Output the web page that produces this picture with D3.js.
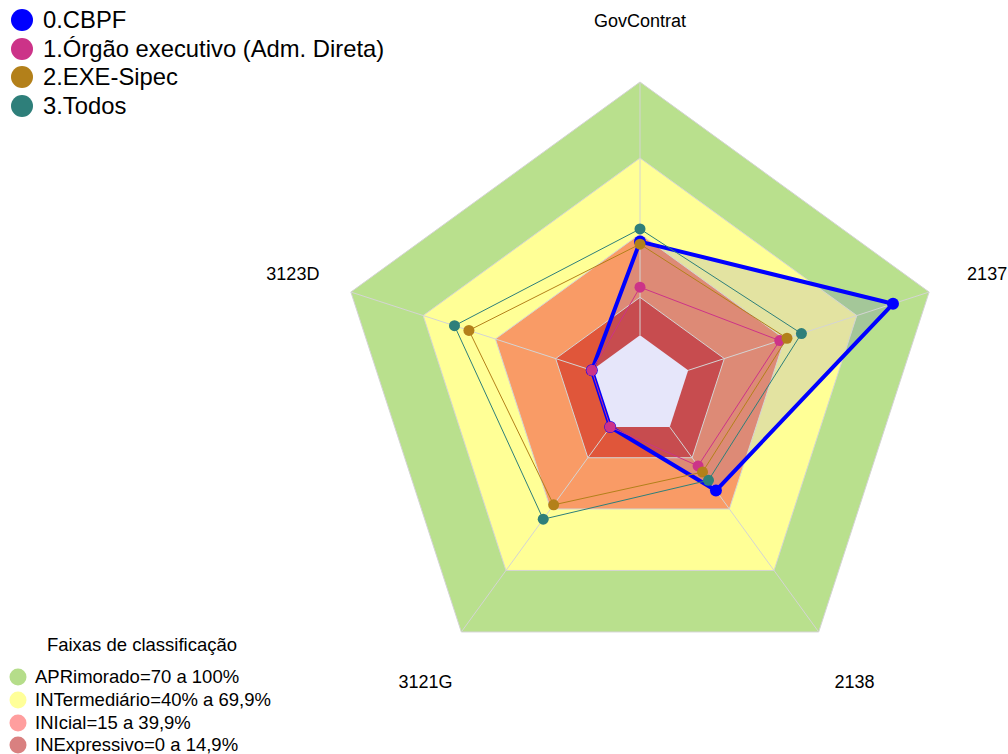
<!DOCTYPE html>
<html>
<head>
<meta charset="utf-8">
<script src="https://cdn.jsdelivr.net/npm/d3@7"></script>
<style>
  body { margin: 0; background: #fff; }
  svg text { font-family: "Liberation Sans", Arial, sans-serif; fill: #000; }
</style>
</head>
<body>
<div id="chart"></div>
<script>
// eixos do radar (sentido horario a partir do topo)
const axes = ["GovContrat", "2137", "2138", "3121G", "3123D"];

const seriesNames = ["0.CBPF", "1.Órgão executivo (Adm. Direta)", "2.EXE-Sipec", "3.Todos"];
const seriesColors = ["#0000ff", "#cc3388", "#b3801a", "#2e7f7a"];
const cbpf = [37, 85, 31, 0, 0];
const orgao = [19, 38, 19, 0, 0];
const sipec = [36, 41, 22, 38, 51];
const todos = [42, 47, 26, 45, 57];

// faixas de classificacao
const bandNames = ["APRimorado=70 a 100%", "INTermediário=40% a 69,9%", "INIcial=15 a 39,9%", "INExpressivo=0 a 14,9%"];
const bandTops = [100, 70, 40, 15];
const bandFill = ["#b9e08d", "#ffff96", "#f99b66", "#e0563a"];
const bandLegend = ["#b5dd8a", "#ffff99", "#ff9e9e", "#d98080"];

const width = 1008, height = 754;
const cx = 640, cy = 386, R = 304;

const svg = d3.select("#chart").append("svg")
  .attr("width", width)
  .attr("height", height);

svg.append("rect").attr("width", width).attr("height", height).attr("fill", "#fff");

// escala radial: o centro fica em -20 para deixar o "buraco" lavanda
const r = d3.scaleLinear().domain([-20, 100]).range([0, R]);
const angle = d3.scalePoint().domain(axes).range([0, 2 * Math.PI * 4 / 5]);

const g = svg.append("g").attr("transform", `translate(${cx},${cy})`);

const radial = d3.lineRadial()
  .angle((d, i) => angle(axes[i]))
  .radius(d => r(d))
  .curve(d3.curveLinearClosed);

const ring = v => axes.map(() => v);

// bandas de fundo
bandTops.forEach((v, i) => {
  g.append("path").attr("d", radial(ring(v))).attr("fill", bandFill[i]);
});

// area do CBPF (transparente)
g.append("path")
  .attr("d", radial(cbpf))
  .attr("fill", "rgba(0,0,255,0.11)");

// centro lavanda
g.append("path").attr("d", radial(ring(0))).attr("fill", "#e6e6fa");

// grade
bandTops.forEach(v => {
  g.append("path").attr("d", radial(ring(v)))
    .attr("fill", "none")
    .attr("stroke", "#d4d4d4")
    .attr("stroke-width", 1);
});
const point = (v, i) => {
  const a = angle(axes[i]);
  return [Math.sin(a) * r(v), -Math.cos(a) * r(v)];
};
axes.forEach((ax, i) => {
  const p0 = point(0, i), p1 = point(100, i);
  g.append("line")
    .attr("x1", p0[0]).attr("y1", p0[1])
    .attr("x2", p1[0]).attr("y2", p1[1])
    .attr("stroke", "#d4d4d4")
    .attr("stroke-width", 1);
});

// rotulos dos eixos
axes.forEach((ax, i) => {
  const a = angle(ax);
  g.append("text")
    .attr("x", Math.sin(a) * 365)
    .attr("y", -Math.cos(a) * 365)
    .attr("dy", "0.35em")
    .attr("text-anchor", "middle")
    .style("font-size", "18px")
    .text(ax);
});

// series
const allSeries = [cbpf, orgao, sipec, todos];
allSeries.forEach((vals, s) => {
  const thick = s === 0;
  g.append("path")
    .attr("d", radial(vals))
    .attr("fill", "none")
    .attr("stroke", seriesColors[s])
    .attr("stroke-width", thick ? 4 : 1)
    .attr("stroke-linejoin", "round");
  g.selectAll(null)
    .data(vals)
    .enter()
    .append("circle")
    .attr("cx", (d, i) => point(d, i)[0])
    .attr("cy", (d, i) => point(d, i)[1])
    .attr("r", thick ? 6 : 5.5)
    .attr("fill", seriesColors[s]);
});

// legenda das series
const leg = svg.append("g");
const legY = [20, 49, 77, 106];
seriesNames.forEach((name, i) => {
  leg.append("circle").attr("cx", 22).attr("cy", legY[i]).attr("r", 11).attr("fill", seriesColors[i]);
  leg.append("text")
    .attr("x", 43).attr("y", legY[i]).attr("dy", "0.35em")
    .style("font-size", "23.8px")
    .text(name);
});

// legenda das faixas
const leg2 = svg.append("g");
leg2.append("text")
  .attr("x", 142).attr("y", 645).attr("dy", "0.35em")
  .attr("text-anchor", "middle")
  .style("font-size", "18.5px")
  .text("Faixas de classificação");
const leg2Y = [677, 700, 723, 745];
bandNames.forEach((name, i) => {
  leg2.append("circle").attr("cx", 18).attr("cy", leg2Y[i]).attr("r", 8.5).attr("fill", bandLegend[i]);
  leg2.append("text")
    .attr("x", 35).attr("y", leg2Y[i]).attr("dy", "0.35em")
    .style("font-size", "18.5px")
    .text(name);
});
</script>
</body>
</html>
